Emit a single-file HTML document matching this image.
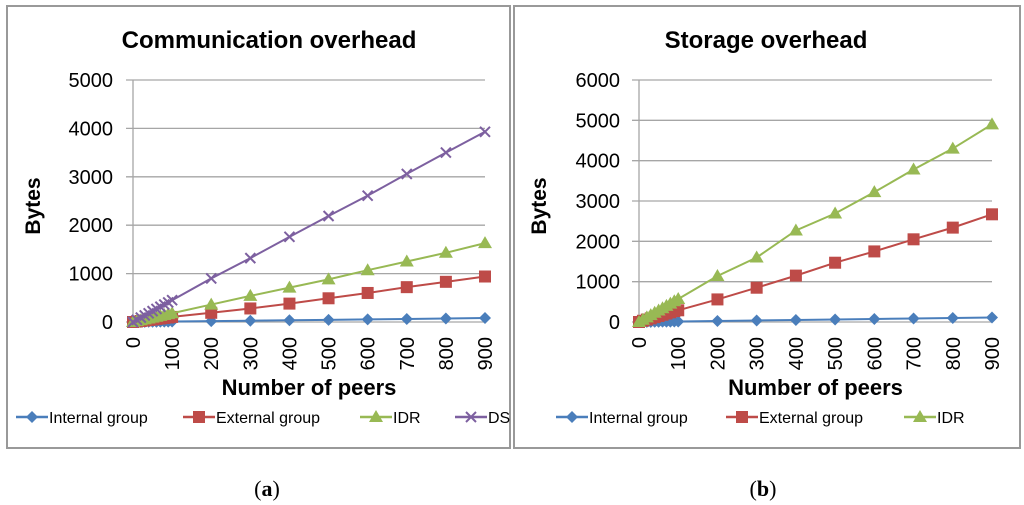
<!DOCTYPE html>
<html><head><meta charset="utf-8"><style>
body{margin:0;background:#fff;}
svg{display:block;font-family:"Liberation Sans",Arial,sans-serif;}
.tick{font-size:20px;fill:#000;}
.leg{font-family:"Liberation Sans Narrow","Liberation Sans",sans-serif;font-size:16px;fill:#000;}
.ttl{font-family:"Liberation Sans Narrow","Liberation Sans",sans-serif;}
</style></head><body>
<svg id="svg" width="1024" height="505" viewBox="0 0 1024 505">
<rect x="7" y="6" width="503" height="442" fill="#fff" stroke="#999" stroke-width="2"/>
<rect x="514" y="6" width="506" height="442" fill="#fff" stroke="#999" stroke-width="2"/>
<text x="267" y="496" font-family="Liberation Serif,serif" font-size="22" text-anchor="middle">(<tspan font-weight="bold">a</tspan>)</text>
<text x="763" y="496" font-family="Liberation Serif,serif" font-size="22" text-anchor="middle">(<tspan font-weight="bold">b</tspan>)</text>
<g id="ga"></g><g id="gb"></g>
</svg>
<script>
const xCats = [0,10,20,30,40,50,60,70,80,90,100,200,300,400,500,600,700,800,900];
const xTickLabels = ["0","100","200","300","400","500","600","700","800","900"];
const aInternal = [0,1,2,3,4,5,6,7,8,9,10,18,27,36,45,54,63,72,82];
const aExternal = [0,10,20,31,42,52,63,73,84,94,105,190,280,380,490,600,720,830,940];
const aIDR = [0,18,36,54,72,90,108,126,144,162,180,360,540,710,880,1070,1250,1430,1630];
const aDS = [0,45,90,135,180,225,270,315,360,405,450,900,1320,1760,2190,2610,3060,3500,3930];
const aYTicks = [0,1000,2000,3000,4000,5000];
const bInternal = [0,1,3,4,5,6,8,9,10,11,12,25,37,50,62,75,87,100,112];
const bExternal = [0,30,60,90,120,150,180,210,240,270,290,560,850,1150,1470,1750,2050,2340,2670];
const bIDR = [0,57,114,171,228,285,342,399,456,513,570,1140,1600,2270,2690,3220,3780,4300,4900];
const bYTicks = [0,1000,2000,3000,4000,5000,6000];

const NS="http://www.w3.org/2000/svg";
function mk(parent,tag,attrs){const e=document.createElementNS(NS,tag);for(const k in attrs)e.setAttribute(k,attrs[k]);parent.appendChild(e);return e;}
const colors={Internal:"#4a7ebb",External:"#be4b48",IDR:"#98b954",DS:"#7d60a0"};

function marker(g,type,x,y,c){
  let e;
  if(type==="diamond") e=mk(g,"path",{d:`M${x} ${y-6}L${x+6} ${y}L${x} ${y+6}L${x-6} ${y}Z`,fill:c});
  else if(type==="square") e=mk(g,"rect",{x:x-6,y:y-6,width:12,height:12,fill:c});
  else if(type==="tri") e=mk(g,"path",{d:`M${x} ${y-7}L${x+7} ${y+5}L${x-7} ${y+5}Z`,fill:c});
  else e=mk(g,"path",{d:`M${x-5} ${y-5}L${x+5} ${y+5}M${x-5} ${y+5}L${x+5} ${y-5}`,stroke:c,"stroke-width":2,fill:"none"});
  return e;
}

function chart(gid,title,x0,x1,yTop,yBot,ymax,yTicks,series,legItems,titleX,tickGap){
  const g=document.getElementById(gid);
  const xs=v=>x0+(x1-x0)*v/900;
  const ys=v=>yBot-(yBot-yTop)*v/ymax;
  const t=mk(g,"text",{x:titleX,y:48,"font-size":24,"font-weight":"bold","text-anchor":"middle",class:"ttl"});
  
  
  t.textContent=title;
  yTicks.forEach(v=>{
    const l=mk(g,"line",{x1:x0-7,x2:x1,y1:ys(v),y2:ys(v),stroke:"#a6a6a6","stroke-width":1.3});
    
    
    const tx=mk(g,"text",{x:x0-tickGap,y:ys(v)+7,"text-anchor":"end",class:"tick"});
    
    
    tx.textContent=v;
  });
  const ax=mk(g,"line",{x1:x0,x2:x0,y1:yTop,y2:yBot+6,stroke:"#a6a6a6","stroke-width":1.3});
  
  
  xTickLabels.forEach(s=>{
    const v=+s;
    const tx=mk(g,"text",{transform:`translate(${xs(v)+7},${yBot+15}) rotate(-90)`,"text-anchor":"end",class:"tick"});
    
    
    tx.textContent=s;
  });
  const yl=mk(g,"text",{transform:`translate(${x0-93},${(yTop+yBot)/2+5}) rotate(-90)`,"text-anchor":"middle","font-size":21,"font-weight":"bold",class:"ttl"});
  
  
  yl.textContent="Bytes";
  const xl=mk(g,"text",{x:(x0+x1)/2,y:395,"text-anchor":"middle","font-size":22,"font-weight":"bold",class:"ttl"});
  
  
  xl.textContent="Number of peers";
  series.forEach(s=>{
    const sg=mk(g,"g",{});
    
    
    const pts=s.data.map((v,i)=>xs(xCats[i])+","+ys(v)).join(" ");
    mk(sg,"polyline",{points:pts,fill:"none",stroke:colors[s.name],"stroke-width":2});
    s.data.forEach((v,i)=>{
      const m=marker(sg,s.m,xs(xCats[i]),ys(v),colors[s.name]);
      
      
    });
  });
  legItems.forEach(it=>{
    const lg=mk(g,"g",{});
    
    
    mk(lg,"line",{x1:it.x,x2:it.x+32,y1:417,y2:417,stroke:colors[it.k],"stroke-width":2.5});
    marker(lg,it.m,it.x+16,417,colors[it.k]);
    const tx=mk(lg,"text",{x:it.x+33,y:423,class:"leg"});
    tx.textContent=it.label;
  });
}
chart("ga","Communication  overhead",133,485,80,322,5000,aYTicks,
 [{name:"Internal",data:aInternal,m:"diamond"},{name:"External",data:aExternal,m:"square"},{name:"IDR",data:aIDR,m:"tri"},{name:"DS",data:aDS,m:"x"}],
 [{k:"Internal",m:"diamond",x:16,label:"Internal group"},{k:"External",m:"square",x:183,label:"External group"},{k:"IDR",m:"tri",x:360,label:"IDR"},{k:"DS",m:"x",x:455,label:"DS"}],269,20);
chart("gb","Storage overhead",639,992,80,322,6000,bYTicks,
 [{name:"Internal",data:bInternal,m:"diamond"},{name:"External",data:bExternal,m:"square"},{name:"IDR",data:bIDR,m:"tri"}],
 [{k:"Internal",m:"diamond",x:556,label:"Internal group"},{k:"External",m:"square",x:726,label:"External group"},{k:"IDR",m:"tri",x:904,label:"IDR"}],766,19);
</script>
</body></html>
